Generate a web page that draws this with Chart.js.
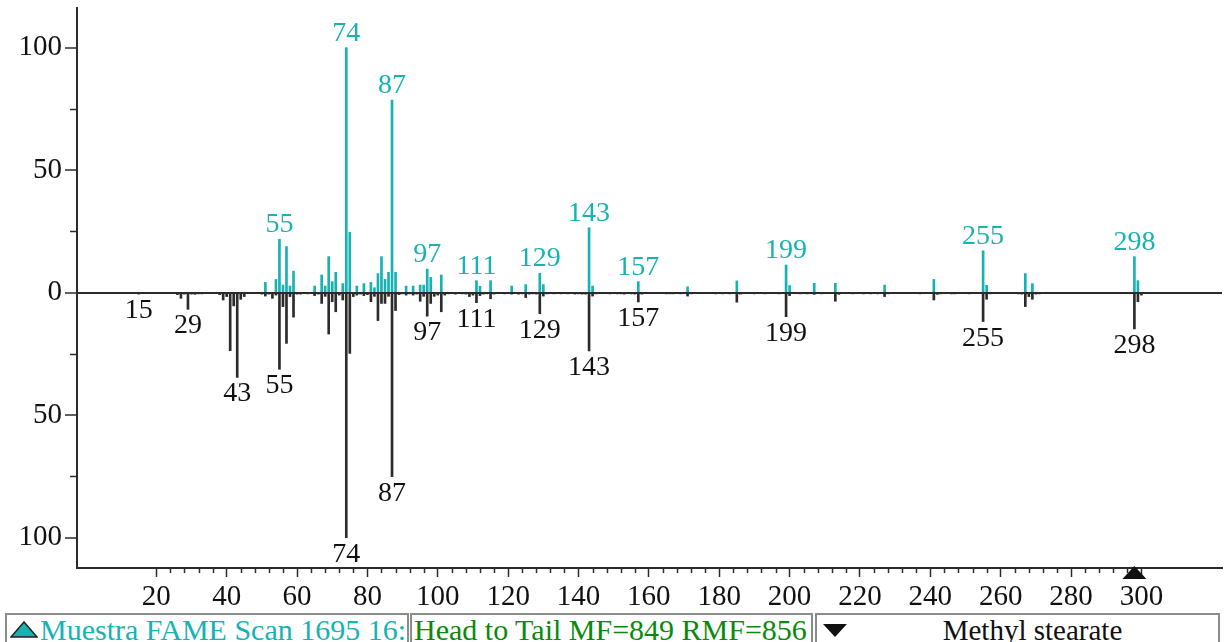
<!DOCTYPE html>
<html>
<head>
<meta charset="utf-8">
<title>Head to Tail - Methyl stearate</title>
<script src="https://cdn.jsdelivr.net/npm/chart.js@4/dist/chart.umd.min.js"></script>
<style>
    body { margin: 0; background: #fff; width: 1225px; height: 642px; overflow: hidden;
           font-family: "Liberation Serif", "Times New Roman", serif; }
    #wrap { position: absolute; left: 0; top: 0; width: 1225px; height: 612px; }
    .box { position: absolute; top: 613px; height: 36px; box-sizing: border-box;
           border: 2px solid #8c8c8c; overflow: hidden; white-space: nowrap;
           font-size: 30px; line-height: 30px; }
    .box svg { position: absolute; top: 6px; }
    #box1 { left: 5px; width: 404px; color: #17b2b2; }
    #box1 span { position: absolute; left: 33px; }
    #box2 { left: 410px; width: 403px; color: #0a8a0a; }
    #box2 span { position: absolute; left: 2px; }
    #box3 { left: 815px; width: 405px; color: #111; font-size: 29px; }
    #box3 span { position: absolute; left: 0; right: -30px; text-align: center; }
</style>
</head>
<body>
<div id="wrap"><canvas id="spectrum" width="1225" height="612"></canvas></div>
<div class="box" id="box1">
    <svg width="28" height="18" style="left:3px"><polygon points="14,1 27,16 1,16" fill="#17b2b2" stroke="#222" stroke-width="1.5"/></svg>
    <span>Muestra FAME Scan 1695 16:1</span>
</div>
<div class="box" id="box2"><span>Head to Tail MF=849 RMF=856</span></div>
<div class="box" id="box3">
    <svg width="26" height="16" style="left:5px;top:8px"><polygon points="1,1 25,1 13,14" fill="#111"/></svg>
    <span>Methyl stearate</span>
</div>
<script>
// Sample spectrum (upper, cyan)
const upperMz = [51, 54, 55, 56, 57, 58, 59, 65, 67, 68, 69, 70, 71, 73, 74, 75, 77, 79, 81, 82,
    83, 84, 85, 86, 87, 88, 91, 93, 95, 96, 97, 98, 101, 111, 112, 115, 121, 125, 129, 130,
    143, 144, 157, 171, 185, 199, 200, 207, 213, 227, 241, 255, 256, 267, 269, 298, 299];
const upperInt = [4.2, 5.4, 21.8, 3.1, 18.8, 2.7, 8.8, 2.7, 7.2, 2.7, 14.7, 4.5, 8.3, 3.7, 100, 24.6, 2.7, 3.7, 4.2, 2,
    7.8, 14.7, 5.4, 8.3, 78.6, 8.3, 2.7, 2.7, 3.1, 3.1, 9.6, 6.2, 7.2, 4.9, 2.6, 4.9, 2.7, 3.3, 7.9, 3.3,
    26.5, 2.7, 4.5, 2.4, 4.8, 11.3, 2.9, 3.8, 3.8, 3.1, 5.4, 17.1, 3, 7.8, 3.7, 14.7, 4.9];

// Library spectrum (lower, black, plotted downwards)
const lowerMz = [15, 26, 27, 28, 29, 30, 31, 32, 33, 38, 39, 40, 41, 42, 43, 44, 45, 50, 51, 52,
    53, 54, 55, 56, 57, 58, 59, 60, 61, 63, 65, 66, 67, 68, 69, 70, 71, 72, 73, 74,
    75, 76, 77, 78, 79, 80, 81, 82, 83, 84, 85, 86, 87, 88, 89, 90, 91, 92, 93, 94,
    95, 96, 97, 98, 99, 100, 101, 102, 103, 105, 107, 108, 109, 110, 111, 112, 113, 114, 115, 116,
    119, 121, 123, 124, 125, 126, 127, 128, 129, 130, 131, 133, 135, 137, 139, 140, 141, 142, 143, 144,
    145, 149, 151, 152, 153, 155, 156, 157, 158, 165, 166, 167, 169, 171, 172, 179, 181, 183, 185, 186,
    190, 193, 197, 199, 200, 203, 205, 207, 209, 213, 214, 218, 221, 223, 225, 227, 228, 237, 241, 242,
    243, 246, 247, 251, 255, 256, 257, 265, 266, 267, 268, 269, 270, 271, 298, 299, 300];
const lowerInt = [0.6, 0.8, 2.3, 0.6, 6.8, 0.6, 0.7, 0.5, 0.5, 0.8, 3, 1.6, 23.7, 5.4, 34.6, 2.7, 1.6, 0.6, 1.4, 0.6,
    2.3, 1, 31.3, 5.7, 20.7, 1.6, 10, 0.6, 0.6, 0.5, 1.2, 0.6, 4.4, 1.5, 16.9, 3.7, 7.8, 1, 3, 100,
    24.8, 1.6, 1, 0.6, 1.2, 0.8, 3.7, 1.5, 11.4, 4.4, 4.4, 1.5, 75.1, 7.3, 0.8, 0.5, 1, 0.5, 1, 0.6,
    3.5, 1.5, 9.6, 4.4, 1.5, 1, 7.8, 1, 0.5, 0.6, 0.5, 0.6, 1.6, 1, 4.1, 1.2, 0.6, 0.5, 2.5, 0.6,
    0.5, 0.6, 0.6, 0.5, 2, 0.6, 0.5, 0.6, 8.6, 1.4, 0.5, 0.5, 0.5, 0.5, 0.6, 0.5, 0.6, 0.6, 23.8, 1.4,
    0.5, 0.5, 0.5, 0.5, 0.6, 0.5, 0.6, 3.8, 0.6, 0.5, 0.5, 0.5, 0.5, 1.4, 0.5, 0.5, 0.5, 0.5, 3.9, 0.6,
    0.5, 0.5, 0.5, 9.8, 1.2, 0.5, 0.5, 0.7, 0.5, 3.5, 0.7, 0.5, 0.5, 0.5, 0.5, 1.6, 0.5, 0.5, 3, 0.7,
    0.5, 0.5, 0.5, 0.5, 11.8, 2.7, 0.5, 0.5, 0.6, 5.7, 1.6, 2.7, 0.6, 0.5, 14.8, 3.7, 1];

// Peaks that get an m/z label
const upperLabels = [55, 74, 87, 97, 111, 129, 143, 157, 199, 255, 298];
const lowerLabels = [15, 29, 43, 55, 74, 87, 97, 111, 129, 143, 157, 199, 255, 298];

// Axis ticks
const xTicks = [20, 40, 60, 80, 100, 120, 140, 160, 180, 200, 220, 240, 260, 280, 300];
const yTicks = [-100, -50, 0, 50, 100];
const yMinorTicks = [-75, -25, 25, 75];
const markerMz = 298;

const CYAN = '#17b2b2';
const DARK = '#2b2b2b';
const FONT = '"Liberation Serif", "Times New Roman", serif';

const annotate = {
    id: 'annotate',
    afterDatasetsDraw(chart) {
        const ctx = chart.ctx;
        const xs = chart.scales.x;
        const ys = chart.scales.y;
        const area = chart.chartArea;
        ctx.save();

        // minor ticks on the y axis
        ctx.strokeStyle = DARK;
        ctx.lineWidth = 1.5;
        yMinorTicks.forEach(function(v) {
            const py = Math.round(ys.getPixelForValue(v)) + 0.5;
            ctx.beginPath();
            ctx.moveTo(area.left - 7, py);
            ctx.lineTo(area.left, py);
            ctx.stroke();
        });

        // minor ticks on the x axis, every 4 units
        for (let m = xTicks[0]; m <= xTicks[xTicks.length - 1]; m += 4) {
            if (m % 20 === 0) continue;
            const px = Math.round(xs.getPixelForValue(m)) + 0.5;
            ctx.beginPath();
            ctx.moveTo(px, area.bottom);
            ctx.lineTo(px, area.bottom + 5);
            ctx.stroke();
        }

        // peak labels
        ctx.font = '28px ' + FONT;
        ctx.textAlign = 'center';
        ctx.textBaseline = 'alphabetic';
        ctx.fillStyle = CYAN;
        upperLabels.forEach(function(m) {
            const v = upperInt[upperMz.indexOf(m)];
            ctx.fillText(String(m), xs.getPixelForValue(m), ys.getPixelForValue(v) - 7);
        });
        ctx.fillStyle = '#111';
        lowerLabels.forEach(function(m) {
            const v = lowerInt[lowerMz.indexOf(m)];
            ctx.fillText(String(m), xs.getPixelForValue(m), ys.getPixelForValue(-v) + 24);
        });

        // marker triangle on the x axis
        const mx = xs.getPixelForValue(markerMz);
        ctx.fillStyle = '#111';
        ctx.beginPath();
        ctx.moveTo(mx, area.bottom - 2);
        ctx.lineTo(mx + 12, area.bottom + 11);
        ctx.lineTo(mx - 12, area.bottom + 11);
        ctx.closePath();
        ctx.fill();

        ctx.restore();
    }
};

function drawChart() {
    const ctx = document.getElementById('spectrum').getContext('2d');
    new Chart(ctx, {
        type: 'bar',
        data: {
            datasets: [{
                label: 'Sample',
                data: upperMz.map(function(m, i) { return { x: m, y: upperInt[i] }; }),
                backgroundColor: CYAN,
                barThickness: 2,
                grouped: false
            }, {
                label: 'Library',
                data: lowerMz.map(function(m, i) { return { x: m, y: -lowerInt[i] }; }),
                backgroundColor: DARK,
                barThickness: 2,
                grouped: false
            }]
        },
        options: {
            responsive: false,
            animation: false,
            devicePixelRatio: 1,
            layout: { padding: { top: 8, right: 3, left: 0, bottom: 0 } },
            plugins: {
                legend: { display: false },
                tooltip: { enabled: false }
            },
            scales: {
                x: {
                    type: 'linear',
                    min: -2.54,
                    max: 322.9,
                    offset: false,
                    afterBuildTicks: function(s) { s.ticks = xTicks.map(function(v) { return { value: v }; }); },
                    afterFit: function(s) { s.height = 44; s.paddingLeft = 0; s.paddingRight = 0; },
                    border: { display: true, color: DARK, width: 2 },
                    grid: { offset: false, drawOnChartArea: false, tickLength: 9, tickColor: DARK, tickWidth: 1.5 },
                    ticks: {
                        autoSkip: false,
                        maxRotation: 0,
                        padding: 3,
                        color: '#111',
                        font: { family: FONT, size: 29 }
                    }
                },
                y: {
                    min: -112.4,
                    max: 116.2,
                    afterBuildTicks: function(s) { s.ticks = yTicks.map(function(v) { return { value: v }; }); },
                    afterFit: function(s) { s.width = 77; s.paddingTop = 0; s.paddingBottom = 0; },
                    border: { display: true, color: DARK, width: 2 },
                    grid: {
                        drawOnChartArea: true,
                        color: function(c) { return c.tick && c.tick.value === 0 ? DARK : 'rgba(0,0,0,0)'; },
                        lineWidth: 2,
                        tickLength: 12,
                        tickColor: DARK,
                        tickWidth: 1.5
                    },
                    ticks: {
                        padding: 3,
                        color: '#111',
                        font: { family: FONT, size: 29 },
                        callback: function(v) { return Math.abs(v); }
                    }
                }
            }
        },
        plugins: [annotate]
    });
}

// make sure the serif face is ready before the canvas text is drawn
document.fonts.load('28px "Liberation Serif"').then(drawChart, drawChart);
</script>
</body>
</html>
